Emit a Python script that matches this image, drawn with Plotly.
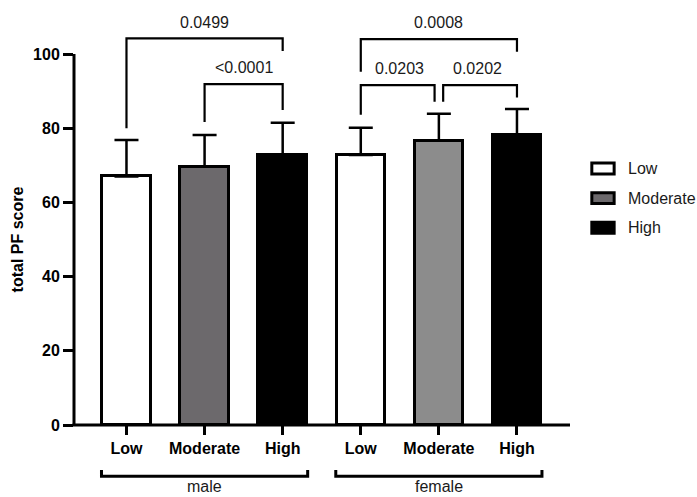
import plotly.graph_objects as go

# Physical-function score by activity level, split by sex (mean + SD)
levels = ["Low", "Moderate", "High"]
groups = ["male", "female"]
male_mean = [67.0, 69.6, 72.8]
male_sd = [9.8, 8.6, 8.7]
female_mean = [72.8, 76.6, 78.3]
female_sd = [7.3, 7.3, 6.9]

# Fill colours per level (male, female)
fills = {
    "Low": ["#ffffff", "#ffffff"],
    "Moderate": ["#6c696c", "#8c8c8c"],
    "High": ["#000000", "#000000"],
}

# Pairwise comparisons: (left bar, right bar, p-value text)
comparisons = [
    (0, 2, "0.0499"),
    (1, 2, "<0.0001"),
    (3, 5, "0.0008"),
    (3, 4, "0.0203"),
    (4, 5, "0.0202"),
]

FONT = "Liberation Sans, Arial, Helvetica, sans-serif"
BAR_W = 0.62
Y_MAX = 112.4
PLOT_H = 497 - 8 - 72  # plot-area height in px

fig = go.Figure()

for i, lvl in enumerate(levels):
    xs = [i, i + 3]
    means = [male_mean[i], female_mean[i]]
    sds = [male_sd[i], female_sd[i]]
    fig.add_trace(go.Bar(
        x=xs, y=means, width=BAR_W, name=lvl, showlegend=False,
        marker=dict(color=fills[lvl], line=dict(color="black", width=3)),
        error_y=dict(type="data", array=sds, arrayminus=[0, 0], symmetric=False,
                     color="black", thickness=2.5, width=12),
    ))

shapes = []
annotations = []

# Axis lines: y stops at 100 while the range leaves headroom for brackets
shapes.append(dict(type="line", xref="paper", yref="y", x0=0, x1=0, y0=0, y1=100,
                   line=dict(color="black", width=3)))
shapes.append(dict(type="line", xref="paper", yref="paper", x0=-0.003, x1=1, y0=0, y1=0,
                   line=dict(color="black", width=3)))

# Bracket geometry for each comparison: (top, left leg end, right leg end, x nudges)
bracket_geom = [
    (104.2, 80.0, 100.8, 0.0, 0.0),
    (91.9, 81.7, 84.9, 0.0, 0.0),
    (104.0, 95.2, 100.6, 0.0, 0.0),
    (91.6, 83.6, 87.1, 0.0, -0.055),
    (91.6, 87.1, 88.3, 0.055, 0.0),
]
for (a, b, txt), (top, lb, rb, da, db) in zip(comparisons, bracket_geom):
    xa, xb = a + da, b + db
    path = f"M {xa},{lb} L {xa},{top} L {xb},{top} L {xb},{rb}"
    shapes.append(dict(type="path", xref="x", yref="y", path=path,
                       line=dict(color="black", width=2.2)))
    annotations.append(dict(x=(a + b) / 2, y=top + 4.4, xref="x", yref="y",
                            text=txt, showarrow=False, yanchor="middle",
                            font=dict(family=FONT, size=16, color="#1a1a1a")))

# Group brackets beneath the category labels
for g, name in enumerate(groups):
    x0 = g * 3 - 0.32
    x1 = g * 3 + 2.32
    shapes.append(dict(type="path", xref="x", yref="paper",
                       path=f"M {x0},-0.108 L {x0},-0.123 L {x1},-0.123 L {x1},-0.108",
                       line=dict(color="black", width=3)))
    annotations.append(dict(x=g * 3 + 1, y=-0.148, xref="x", yref="paper",
                            text=name, showarrow=False, yanchor="middle",
                            font=dict(family=FONT, size=16, color="#1a1a1a")))

# Y-axis title, centred on the 0-100 span of the axis
annotations.append(dict(x=-0.113, y=50, xref="paper", yref="y", text="total PF score",
                        textangle=-90, showarrow=False, xanchor="center", yanchor="middle",
                        font=dict(family=FONT, size=16, color="black", weight="bold")))

# Legend drawn as boxes plus labels
legend_fill = [fills[l][0] for l in levels]
for k, lvl in enumerate(levels):
    yc = 0.615 - k * 0.071
    shapes.append(dict(type="rect", xref="paper", yref="paper",
                       x0=1.044, x1=1.089, y0=yc - 0.013, y1=yc + 0.013,
                       fillcolor=legend_fill[k], line=dict(color="black", width=3)))
    annotations.append(dict(x=1.112, y=yc, xref="paper", yref="paper", text=lvl,
                            showarrow=False, xanchor="left", yanchor="middle",
                            font=dict(family=FONT, size=16, color="#1a1a1a")))

fig.update_layout(
    width=697, height=497,
    margin=dict(l=74, r=127, t=8, b=72),
    plot_bgcolor="white", paper_bgcolor="white",
    bargap=0, showlegend=False,
    shapes=shapes, annotations=annotations,
    xaxis=dict(range=[-0.672, 5.679], tickvals=list(range(6)), ticktext=levels * 2,
               showline=False, ticks="outside", ticklen=9, tickwidth=3, tickcolor="black",
               showgrid=False, zeroline=False,
               tickfont=dict(family=FONT, size=16, color="black", weight="bold")),
    yaxis=dict(range=[0, Y_MAX], tickvals=[0, 20, 40, 60, 80, 100],
               showline=False, ticks="outside", ticklen=10, tickwidth=3, tickcolor="black",
               showgrid=False, zeroline=False,
               tickfont=dict(family=FONT, size=16, color="black", weight="bold")),
)

fig.write_html("out.html")
